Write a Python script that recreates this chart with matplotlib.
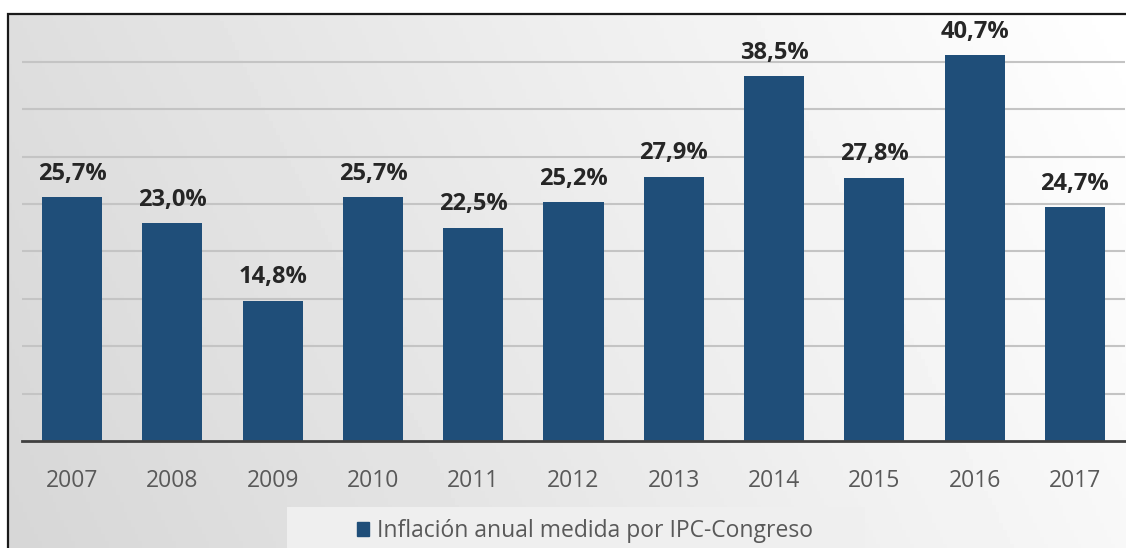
import numpy as np
import matplotlib.pyplot as plt
from matplotlib.patches import Rectangle, Patch

years = ['2007', '2008', '2009', '2010', '2011', '2012', '2013', '2014', '2015', '2016', '2017']
inflation = [25.7, 23.0, 14.8, 25.7, 22.5, 25.2, 27.9, 38.5, 27.8, 40.7, 24.7]
series_name = 'Inflación anual medida por IPC-Congreso'

bar_color = '#1f4e79'
text_dark = '#262626'
text_gray = '#595959'


def main():
    plt.rcParams['font.family'] = ['Open Sans', 'DejaVu Sans']
    fig = plt.figure(figsize=(11.26, 5.48), dpi=100)
    fig.patch.set_facecolor('white')

    # gradient background behind the chart
    bg = fig.add_axes([8 / 1126, 0, 1 - 8 / 1126, 1 - 14 / 548], zorder=-2)
    gx = np.linspace(0, 1, 300)
    gy = np.linspace(0, 1, 150)
    X, Y = np.meshgrid(gx, gy)
    shade = 0.84 + 0.13 * X + 0.03 * Y
    bg.imshow(shade, cmap='gray', vmin=0, vmax=1, aspect='auto',
              extent=[0, 1, 0, 1], origin='lower')
    bg.set_axis_off()
    fig.patches.append(Rectangle((8 / 1126, -0.01), 1.0, 1 - 14 / 548 + 0.01,
                                 transform=fig.transFigure, fill=False,
                                 edgecolor='#1a1a1a', linewidth=1.6, zorder=5))
    # legend panel
    fig.patches.append(Rectangle((287 / 1126, -0.01), 578 / 1126, 41 / 548 + 0.01,
                                 transform=fig.transFigure, facecolor='#efefef',
                                 edgecolor='none', zorder=1))

    ax = fig.add_axes([22 / 1126, 1 - 441 / 548, 1103 / 1126, 398 / 548])
    ax.patch.set_alpha(0)
    xs = np.arange(len(years))
    bars = ax.bar(xs, inflation, width=0.6, color=bar_color, zorder=3,
                  label=series_name)

    for rect, val in zip(bars, inflation):
        label = f'{val:.1f}%'.replace('.', ',')
        ax.text(rect.get_x() + rect.get_width() / 2, val + 1.2, label,
                ha='center', va='bottom', fontsize=17, fontweight='bold',
                color=text_dark)

    ax.set_xlim(-0.5, len(years) - 0.5)
    ax.set_ylim(0, 42)
    ax.set_yticks(np.arange(5, 45, 5))
    ax.yaxis.grid(True, color='#c4c4c4', linewidth=1.5, zorder=0)
    ax.tick_params(axis='y', left=False, labelleft=False)
    ax.set_xticks(xs, years)
    ax.tick_params(axis='x', length=0, pad=20, labelsize=16.5, labelcolor=text_gray)
    for side in ['top', 'right', 'left']:
        ax.spines[side].set_visible(False)
    ax.spines['bottom'].set_color('#404040')
    ax.spines['bottom'].set_linewidth(2)
    ax.spines['bottom'].set_zorder(4)

    leg = fig.legend(handles=[Patch(color=bar_color, label=series_name)],
                     loc='center', bbox_to_anchor=(585 / 1126, 1 - 531 / 548),
                     fontsize=16.5, frameon=False,
                     handlelength=0.55, handleheight=0.55, handletextpad=0.35)
    for t in leg.get_texts():
        t.set_color(text_gray)

    fig.savefig('out.png', dpi=100)


if __name__ == '__main__':
    main()
